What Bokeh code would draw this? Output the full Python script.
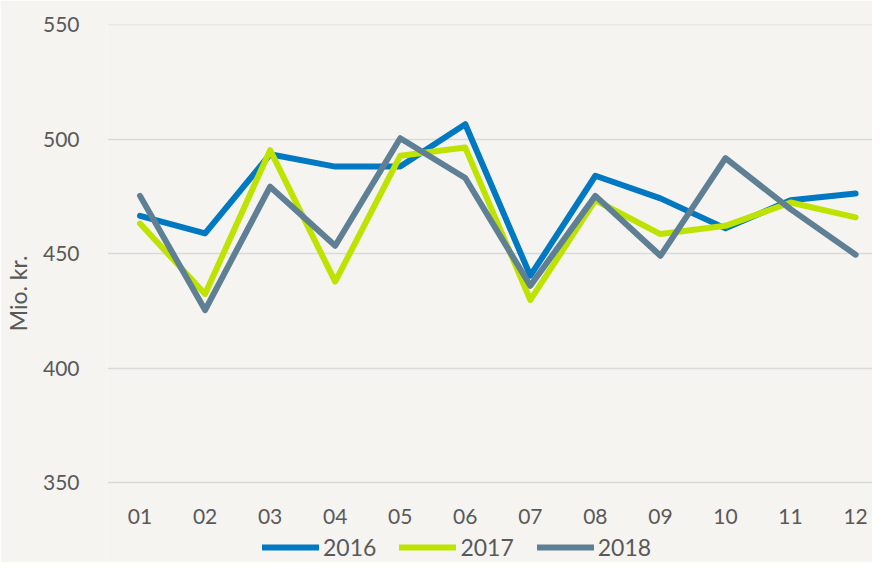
from bokeh.plotting import figure
from bokeh.models import Legend, LegendItem, FixedTicker, Range1d
from bokeh.embed import file_html
from bokeh.resources import INLINE

months = ["01", "02", "03", "04", "05", "06", "07", "08", "09", "10", "11", "12"]
s2016 = [466.6, 458.9, 493.5, 488.1, 488.1, 506.6, 440.4, 484.1, 474.2, 461.1, 473.4, 476.3]
s2017 = [463.2, 432.4, 495.3, 437.8, 492.8, 496.4, 429.8, 473.4, 458.6, 462.2, 472.4, 465.9]
s2018 = [475.3, 425.4, 479.3, 453.5, 500.5, 483.1, 436.0, 475.3, 449.1, 491.8, 469.5, 449.6]
series_names = ["2016", "2017", "2018"]
y_ticks = [350, 400, 450, 500, 550]

colors = ["#0079c2", "#bfe300", "#5e7f94"]
BG = "#f5f4f0"
TXT = "#595959"
FONT = "Lato"

x = list(range(1, len(months) + 1))

W, H = 872, 562
TOP, BOTTOM_AXIS = 24, 482          # pixel rows of 550 and 350
ppu = (BOTTOM_AXIS - TOP) / 200.0   # pixels per unit
y_end = 550 + 0.2
y_start = 550 - (H - TOP) / ppu

p = figure(width=W, height=H, output_backend="svg", toolbar_location=None,
           x_range=Range1d(0.5, 12.26), y_range=Range1d(y_start, y_end),
           min_border_left=103, min_border_right=0, min_border_top=TOP, min_border_bottom=0)
p.background_fill_color = BG
p.border_fill_color = BG
p.outline_line_color = None

renderers = []
for vals, c in zip([s2016, s2017, s2018], colors):
    r = p.line(x, vals, line_color=c, line_width=6, line_cap="round", line_join="round")
    renderers.append(r)

p.xgrid.grid_line_color = None
p.ygrid.grid_line_color = "#d9d9d9"
p.ygrid.grid_line_width = 1.5
p.ygrid.ticker = FixedTicker(ticks=y_ticks)

p.xaxis.ticker = FixedTicker(ticks=x)
p.xaxis.major_label_overrides = {i: m for i, m in zip(x, months)}
p.xaxis.fixed_location = 350
p.yaxis.ticker = FixedTicker(ticks=y_ticks)

for ax in (p.xaxis[0], p.yaxis[0]):
    ax.axis_line_color = None
    ax.major_tick_line_color = None
    ax.minor_tick_line_color = None
    ax.major_label_text_font = FONT
    ax.major_label_text_font_size = "21px"
    ax.major_label_text_color = TXT

p.xaxis.major_label_standoff = 20
p.yaxis.major_label_standoff = 22
p.yaxis.axis_label = "Mio. kr."
p.yaxis.axis_label_text_font = FONT
p.yaxis.axis_label_text_font_size = "23px"
p.yaxis.axis_label_text_font_style = "normal"
p.yaxis.axis_label_text_color = TXT
p.yaxis.axis_label_standoff = 8

legend = Legend(items=[LegendItem(label=n, renderers=[r]) for n, r in zip(series_names, renderers)],
                orientation="horizontal", location=(155, 1),
                glyph_width=57, glyph_height=20, label_standoff=4, spacing=23,
                padding=0, margin=0, border_line_color=None, background_fill_alpha=0,
                label_text_font=FONT, label_text_font_size="23px", label_text_color=TXT)
p.add_layout(legend, "center")

open("out.html", "w").write(file_html(p, INLINE))
